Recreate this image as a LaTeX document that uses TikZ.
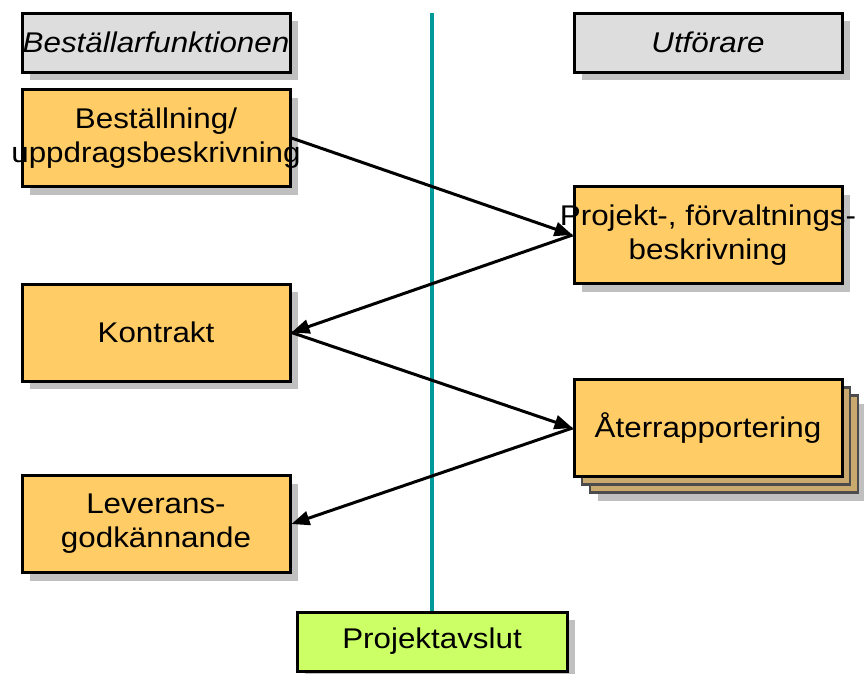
\documentclass[tikz,border=0pt]{standalone}
\usepackage{fontspec}
\setmainfont[FakeStretch=1.1]{Liberation Sans}
\usepackage{tikz}
\usetikzlibrary{arrows.meta,shadows}
\definecolor{boxorange}{HTML}{FFCC66}
\definecolor{headgrey}{HTML}{DDDDDD}
\definecolor{shadowgrey}{HTML}{C0C0C0}
\definecolor{stacktan}{HTML}{C9A96E}
\definecolor{endlime}{HTML}{CCFF66}
\definecolor{lineteal}{HTML}{009999}
\tikzset{
	panel/.style={draw=black, line width=3pt, fill=boxorange, minimum width=268pt, minimum height=97pt, inner sep=0pt},
	box/.style={panel, general shadow={shadow xshift=8pt, shadow yshift=-8pt, fill=shadowgrey}},
	header/.style={box, fill=headgrey, minimum height=59pt},
	stacked/.style={panel,
		general shadow={shadow xshift=24pt, shadow yshift=-24pt, fill=shadowgrey},
		general shadow={shadow xshift=16pt, shadow yshift=-16pt, fill=stacktan, draw=black!70, line width=2.5pt},
		general shadow={shadow xshift=8pt, shadow yshift=-8pt, fill=stacktan, draw=black!70, line width=2.5pt}},
	paneltext/.style={align=center, inner sep=0pt, font=\fontsize{28.5}{34}\selectfont},
	flow/.style={line width=3pt, -{Triangle[length=18pt,width=14pt]}}
}
% one box with its text set over it, text may run past the edges
\newcommand{\panelnode}[4]{
	\node[#1, label={[paneltext]center:#4}] (#2) at #3 {};
}

\begin{document}
\begin{tikzpicture}[x=1pt, y=-1pt]
	\useasboundingbox (0,0) rectangle (864,673);

	%column headers
	\panelnode{header}{orderer}{(156,42.5)}{\itshape Beställarfunktionen}
	\panelnode{header}{performer}{(708,42.5)}{\itshape Utförare}

	%left column
	\panelnode{box}{order}{(156,138)}{Beställning/\\uppdragsbeskrivning}
	\panelnode{box}{contract}{(156,332.5)}{Kontrakt}
	\panelnode{box}{approval}{(156,524)}{Leverans-\\godkännande}

	%right column
	\panelnode{box}{projdesc}{(708,235)}{Projekt-, förvaltnings-\\beskrivning}
	\panelnode{stacked}{report}{(708,428)}{Återrapportering}

	%closing
	\panelnode{box, fill=endlime, minimum width=270pt, minimum height=59pt}{closing}{(432,641.5)}{Projektavslut}

	%divider
	\coordinate (divtop) at (432,13);
	\draw[lineteal, line width=4pt] (divtop) -- (closing.north);

	%exchanges
	\draw[flow] (order.east) -- (projdesc.west);
	\draw[flow] (projdesc.west) -- (contract.east);
	\draw[flow] (contract.east) -- (report.west);
	\draw[flow] (report.west) -- (approval.east);
\end{tikzpicture}
\end{document}
